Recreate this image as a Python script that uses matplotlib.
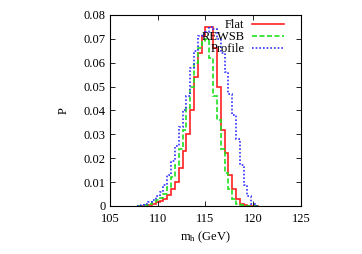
import matplotlib
matplotlib.use("Agg")
import matplotlib.pyplot as plt
import numpy as np

plt.rcParams["font.family"] = "serif"
plt.rcParams["font.serif"] = ["Liberation Serif", "DejaVu Serif"]
plt.rcParams["mathtext.fontset"] = "custom"
plt.rcParams["mathtext.rm"] = "Liberation Serif"
plt.rcParams["mathtext.it"] = "Liberation Serif:italic"

# bin edges (GeV), 0.4 GeV bins
edges = [107.8 + 0.4 * i for i in range(33)]

flat = [0, 0, 0.0002, 0.0005, 0.001, 0.0015, 0.002, 0.003, 0.0045, 0.007,
        0.010, 0.016, 0.023, 0.030, 0.040, 0.054, 0.064, 0.071, 0.075, 0.075,
        0.066, 0.050, 0.032, 0.022, 0.013, 0.007, 0.003, 0.001, 0.0004, 0, 0, 0]
rewsb = [0, 0.0001, 0.0004, 0.001, 0.0015, 0.0025, 0.0035, 0.005, 0.008, 0.012,
         0.017, 0.024, 0.032, 0.041, 0.050, 0.060, 0.066, 0.069, 0.070, 0.062,
         0.046, 0.036, 0.024, 0.014, 0.007, 0.003, 0.001, 0.0003, 0, 0, 0, 0]
profile = [0.0002, 0.0005, 0.001, 0.0015, 0.0025, 0.004, 0.006, 0.009, 0.013, 0.019,
           0.025, 0.033, 0.040, 0.046, 0.058, 0.065, 0.071, 0.072, 0.073, 0.075,
           0.074, 0.070, 0.064, 0.056, 0.047, 0.038, 0.028, 0.017, 0.009, 0.004,
           0.001, 0]

xticks = [105, 110, 115, 120, 125]
yticks = [0, 0.01, 0.02, 0.03, 0.04, 0.05, 0.06, 0.07, 0.08]
ytick_labels = ["0", "0.01", "0.02", "0.03", "0.04", "0.05", "0.06", "0.07", "0.08"]

fig = plt.figure(figsize=(3.62, 2.54), dpi=100)
ax = fig.add_axes([0.304, 0.189, 0.527, 0.752])

ax.stairs(flat, edges, color="#ff2020", lw=1.2, ls="-", label="Flat")
ax.stairs(rewsb, edges, color="#20e020", lw=1.2, ls=(0, (3, 1.5)), label="REWSB")
ax.stairs(profile, edges, color="#3030ff", lw=1.2, ls=(0, (1, 1.2)), label="Profile")

ax.set_xlim(105, 125)
ax.set_ylim(0, 0.08)
ax.set_xticks(xticks)
ax.set_yticks(yticks)
ax.set_yticklabels(ytick_labels)
ax.tick_params(direction="in", top=True, right=True, length=3.5, width=0.6,
               labelsize=9, pad=3)
ax.tick_params(axis="x", pad=5)
for s in ax.spines.values():
    s.set_linewidth(0.8)

ax.set_xlabel("m$_\\mathrm{h}$ (GeV)", fontsize=9, labelpad=3)
ax.set_ylabel("P", fontsize=9, labelpad=10)

ax.legend(loc="upper right", bbox_to_anchor=(0.92, 0.985), frameon=False,
          fontsize=9, markerfirst=False, handlelength=2.6, handletextpad=0.6,
          labelspacing=0.0, borderaxespad=0.0, borderpad=0.1)

fig.savefig("out.png", dpi=100, facecolor="white")
